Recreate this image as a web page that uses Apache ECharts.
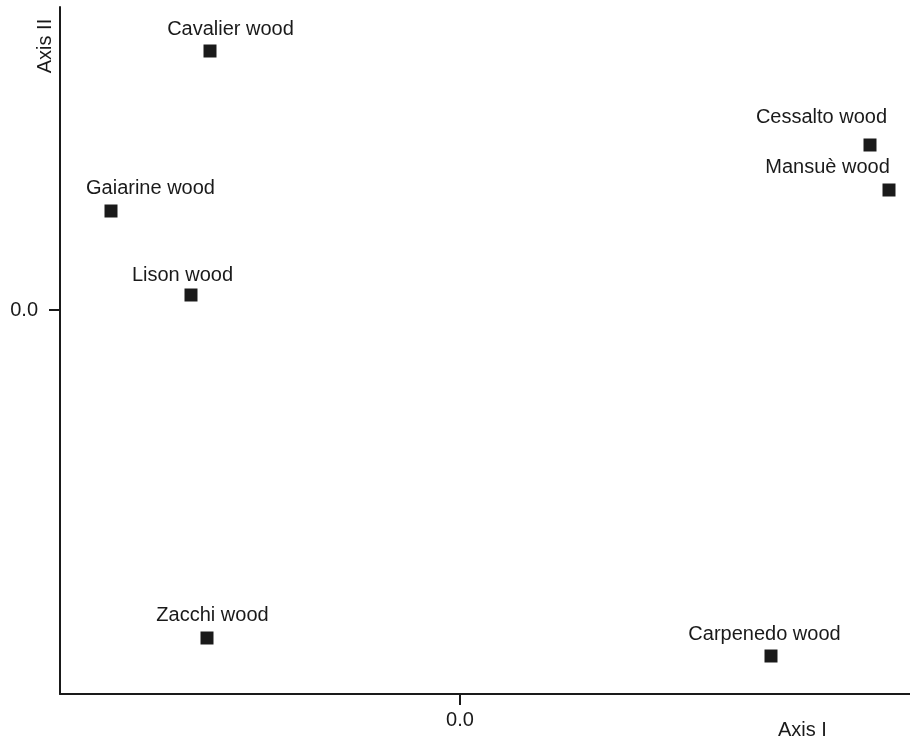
<!DOCTYPE html>
<html>
<head>
<meta charset="utf-8">
<script src="https://cdn.jsdelivr.net/npm/echarts@6/dist/echarts.min.js"></script>
<style>
html,body{margin:0;padding:0;background:#fff;}
#chart{width:910px;height:741px;}
</style>
</head>
<body>
<div id="chart"></div>
<script>
// Data
var sites = ["Cavalier wood", "Cessalto wood", "Mansuè wood", "Gaiarine wood", "Lison wood", "Zacchi wood", "Carpenedo wood"];
var axisI = [-2.50, 4.10, 4.29, -3.49, -2.69, -2.53, 3.11];
var axisII = [2.59, 1.65, 1.20, 0.99, 0.15, -3.28, -3.46];
var tickValues = [0];
var axisTitles = ["Axis I", "Axis II"];

// Label placement (layout only)
var labelOffsets = [[20.5, -22], [-48.5, -27.5], [-61.5, -23], [39.5, -23], [-8.5, -20], [5.5, -22.5], [-6.5, -21.5]];

var FONT = "Liberation Sans, Arial, Helvetica, sans-serif";
var INK = "#1a1a1a";

var data = sites.map(function (name, i) {
  return {
    name: name,
    value: [axisI[i], axisII[i]],
    label: { offset: labelOffsets[i] }
  };
});

var chart = echarts.init(document.getElementById('chart'), null, { renderer: 'canvas' });
chart.setOption({
  backgroundColor: '#ffffff',
  animation: false,
  grid: { left: 60, right: 0, top: 7, bottom: 47 },
  xAxis: {
    type: 'value', min: -4.0, max: 4.5,
    splitLine: { show: false },
    axisLine: { show: true, onZero: false, lineStyle: { color: INK, width: 2 } },
    axisTick: { show: true, length: 11, customValues: tickValues, lineStyle: { color: INK, width: 2 } },
    axisLabel: { customValues: tickValues, margin: 16, color: INK, fontSize: 20, fontFamily: FONT,
      formatter: function (v) { return v.toFixed(1); } }
  },
  yAxis: {
    type: 'value', min: -3.84, max: 3.03,
    splitLine: { show: false },
    axisLine: { show: true, onZero: false, lineStyle: { color: INK, width: 2 } },
    axisTick: { show: true, length: 11, customValues: tickValues, lineStyle: { color: INK, width: 2 } },
    axisLabel: { customValues: tickValues, margin: 22, color: INK, fontSize: 20, fontFamily: FONT,
      formatter: function (v) { return v.toFixed(1); } }
  },
  graphic: [
    { type: 'text', left: 778, top: 720, style: { text: axisTitles[0], fill: INK, fontSize: 20, fontFamily: FONT } },
    { type: 'text', x: 45, y: 46, rotation: Math.PI / 2,
      style: { text: axisTitles[1], fill: INK, fontSize: 20, fontFamily: FONT, align: 'center', verticalAlign: 'middle' } }
  ],
  series: [{
    type: 'scatter',
    symbol: 'rect',
    symbolSize: 13,
    itemStyle: { color: INK, opacity: 1 },
    label: {
      show: true,
      position: 'inside',
      formatter: '{b}',
      color: INK,
      opacity: 1,
      fontSize: 20,
      fontFamily: FONT,
      align: 'center',
      verticalAlign: 'middle'
    },
    data: data
  }]
});
</script>
</body>
</html>
